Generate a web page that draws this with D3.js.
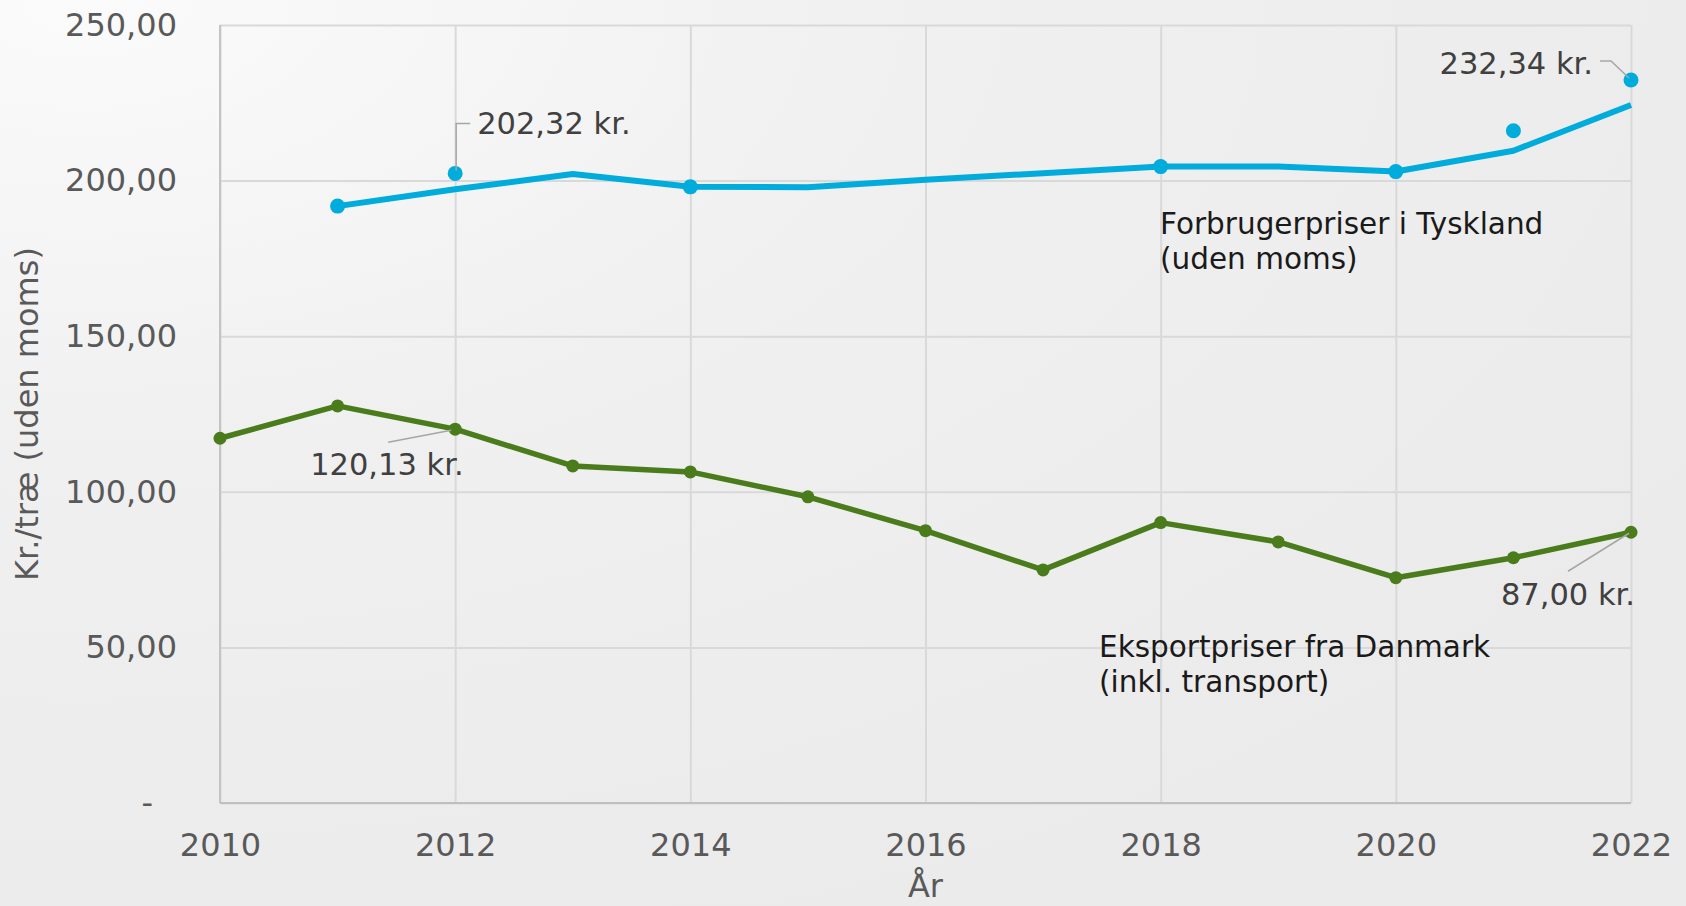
<!DOCTYPE html>
<html>
<head>
<meta charset="utf-8">
<script src="https://cdn.jsdelivr.net/npm/d3@7"></script>
<style>
  html, body { margin: 0; padding: 0; background: #eeeeee; }
  svg { display: block; font-family: "DejaVu Sans", Verdana, sans-serif; }
</style>
</head>
<body>
<svg id="chart" width="1686" height="906"></svg>
<script>
// ---- data ----
const xTickYears = [2010, 2012, 2014, 2016, 2018, 2020, 2022];
const yTickValues = [0, 50, 100, 150, 200, 250];

const exportYears = [2010, 2011, 2012, 2013, 2014, 2015, 2016, 2017, 2018, 2019, 2020, 2021, 2022];
const exportValues = [117.2, 127.6, 120.13, 108.3, 106.4, 98.4, 87.5, 74.9, 90.1, 83.9, 72.4, 78.8, 87.00];

const consumerLineYears = [2011, 2012, 2013, 2014, 2015, 2016, 2017, 2018, 2019, 2020, 2021, 2022];
const consumerLineValues = [191.8, 197.2, 202.1, 198.0, 197.9, 200.3, 202.4, 204.5, 204.5, 202.9, 209.6, 224.3];

const consumerDotYears = [2011, 2012, 2014, 2018, 2020, 2021, 2022];
const consumerDotValues = [191.8, 202.32, 198.0, 204.5, 202.9, 216.0, 232.34];

const seriesNames = ["Eksportpriser fra Danmark", "(inkl. transport)", "Forbrugerpriser i Tyskland", "(uden moms)"];
const yAxisTitle = "Kr./træ (uden moms)";
const xAxisTitle = "År";

// ---- layout ----
const svg = d3.select("#chart");
const W = 1686, H = 906;
const m = { left: 220, top: 25, right: 1631, bottom: 803 };
const w = m.right - m.left, h = m.bottom - m.top;

const defs = svg.append("defs");
const bg = defs.append("radialGradient").attr("id", "bg")
  .attr("cx", "0.05").attr("cy", "0.0").attr("r", "1.1");
bg.append("stop").attr("offset", "0").attr("stop-color", "#fbfbfb");
bg.append("stop").attr("offset", "0.45").attr("stop-color", "#f0f0f0");
bg.append("stop").attr("offset", "1").attr("stop-color", "#ebebeb");
svg.append("rect").attr("width", W).attr("height", H).attr("fill", "url(#bg)");

const x = d3.scaleLinear().domain([2010, 2022]).range([0, w]);
const y = d3.scaleLinear().domain([0, 250]).range([h, 0]);

const g = svg.append("g").attr("transform", `translate(${m.left},${m.top})`);

const loc = d3.formatLocale({ decimal: ",", thousands: ".", grouping: [3], currency: ["", " kr."] });
const f2 = loc.format(".2f");

// y axis with gridlines
const yAx = g.append("g").attr("class", "yaxis")
  .call(d3.axisLeft(y).tickValues(yTickValues).tickSize(-w).tickSizeOuter(0).tickPadding(43)
    .tickFormat(d => d === 0 ? "-" : f2(d)));
yAx.selectAll(".tick line").attr("stroke", "#d9d9d9").attr("stroke-width", 2);
yAx.selectAll(".tick text").attr("fill", "#595959").attr("font-size", 32)
  .attr("font-family", "DejaVu Sans, Verdana, sans-serif");
yAx.selectAll(".tick").filter(d => d === 0).select("text").attr("dx", -24);
yAx.select(".domain").remove();

// x axis with gridlines
const xAx = g.append("g").attr("class", "xaxis").attr("transform", `translate(0,${h})`)
  .call(d3.axisBottom(x).tickValues(xTickYears).tickSize(-h).tickSizeOuter(0).tickPadding(30)
    .tickFormat(d3.format("d")));
xAx.selectAll(".tick line").attr("stroke", "#d9d9d9").attr("stroke-width", 2);
xAx.selectAll(".tick text").attr("fill", "#595959").attr("font-size", 32)
  .attr("font-family", "DejaVu Sans, Verdana, sans-serif");
xAx.select(".domain").remove();

// axis lines
g.append("line").attr("x1", 0).attr("x2", 0).attr("y1", 0).attr("y2", h)
  .attr("stroke", "#c4c4c4").attr("stroke-width", 2);
g.append("line").attr("x1", 0).attr("x2", w).attr("y1", h).attr("y2", h)
  .attr("stroke", "#bfbfbf").attr("stroke-width", 2);

// axis titles
svg.append("text").attr("transform", `translate(${38},${414}) rotate(-90)`)
  .attr("text-anchor", "middle").attr("fill", "#595959").attr("font-size", 32)
  .text(yAxisTitle);
svg.append("text").attr("x", m.left + x(2016)).attr("y", 897)
  .attr("text-anchor", "middle").attr("fill", "#595959").attr("font-size", 32)
  .text(xAxisTitle);

const blue = "#00acdc", green = "#4a7c1c";
const line = d3.line().x(d => x(d[0])).y(d => y(d[1]));

// consumer line
const cLine = consumerLineYears.map((yr, i) => [yr, consumerLineValues[i]]);
g.append("path").datum(cLine).attr("d", line).attr("fill", "none")
  .attr("stroke", blue).attr("stroke-width", 6).attr("stroke-linejoin", "round");

// export line
const eLine = exportYears.map((yr, i) => [yr, exportValues[i]]);
g.append("path").datum(eLine).attr("d", line).attr("fill", "none")
  .attr("stroke", green).attr("stroke-width", 5.5).attr("stroke-linejoin", "round");
g.selectAll(".emk").data(eLine).enter().append("circle").attr("class", "emk")
  .attr("cx", d => x(d[0])).attr("cy", d => y(d[1])).attr("r", 6.5).attr("fill", green);

// consumer dots
const cDots = consumerDotYears.map((yr, i) => [yr, consumerDotValues[i]]);
g.selectAll(".cmk").data(cDots).enter().append("circle").attr("class", "cmk")
  .attr("cx", d => x(d[0])).attr("cy", d => y(d[1])).attr("r", 7.5).attr("fill", blue);

// data labels with leader lines
const lblColor = "#404040", leader = "#a6a6a6";
const kr = v => f2(v) + " kr.";
function pt(yr, v) { return [m.left + x(yr), m.top + y(v)]; }
const lblSize = 30.5;

// 202,32 kr.
{
  const [px, py] = pt(2012, consumerDotValues[1]);
  svg.append("path").attr("d", `M${px + 1},${py - 3} L${px + 1},${py - 50} L${px + 15},${py - 50}`)
    .attr("fill", "none").attr("stroke", leader).attr("stroke-width", 1.5);
  svg.append("text").attr("x", px + 22).attr("y", py - 39).attr("fill", lblColor)
    .attr("font-size", lblSize).text(kr(consumerDotValues[1]));
}
// 232,34 kr.
{
  const [px, py] = pt(2022, consumerDotValues[6]);
  svg.append("path").attr("d", `M${px - 2},${py - 2} L${px - 20},${py - 19} L${px - 31},${py - 19}`)
    .attr("fill", "none").attr("stroke", leader).attr("stroke-width", 1.5);
  svg.append("text").attr("x", px - 38).attr("y", py - 6).attr("text-anchor", "end").attr("fill", lblColor)
    .attr("font-size", lblSize).text(kr(consumerDotValues[6]));
}
// 120,13 kr.
{
  const [px, py] = pt(2012, exportValues[2]);
  svg.append("path").attr("d", `M${px - 4},${py + 1} L${px - 67},${py + 13}`)
    .attr("fill", "none").attr("stroke", leader).attr("stroke-width", 1.5);
  svg.append("text").attr("x", px - 145).attr("y", py + 46).attr("fill", lblColor)
    .attr("font-size", lblSize).text(kr(exportValues[2]));
}
// 87,00 kr.
{
  const [px, py] = pt(2022, exportValues[12]);
  svg.append("path").attr("d", `M${px - 2},${py + 1} L${px - 63},${py + 39}`)
    .attr("fill", "none").attr("stroke", leader).attr("stroke-width", 1.5);
  svg.append("text").attr("x", px + 4).attr("y", py + 73).attr("text-anchor", "end").attr("fill", lblColor)
    .attr("font-size", lblSize).text(kr(exportValues[12]));
}

// series annotations
const annColor = "#1a1a1a", annSize = 29.5;
svg.append("text").attr("x", 1160).attr("y", 234).attr("fill", annColor).attr("font-size", annSize)
  .text(seriesNames[2]);
svg.append("text").attr("x", 1160).attr("y", 269).attr("fill", annColor).attr("font-size", annSize)
  .text(seriesNames[3]);
svg.append("text").attr("x", 1099).attr("y", 657).attr("fill", annColor).attr("font-size", annSize)
  .text(seriesNames[0]);
svg.append("text").attr("x", 1099).attr("y", 692).attr("fill", annColor).attr("font-size", annSize)
  .text(seriesNames[1]);
</script>
</body>
</html>
